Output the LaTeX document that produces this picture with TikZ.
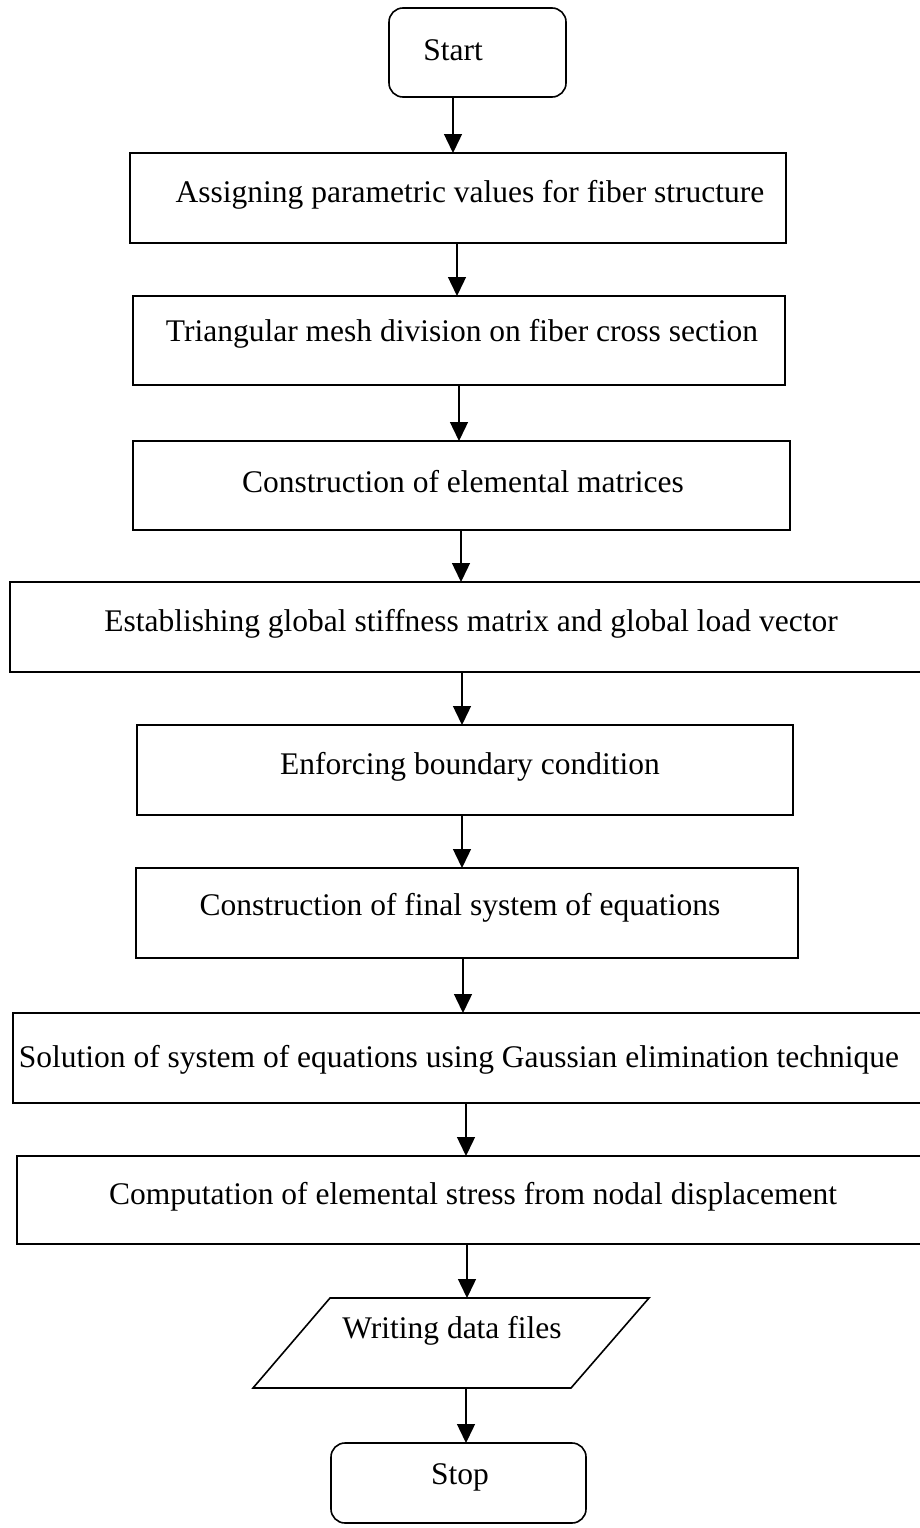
\documentclass[tikz,border=0pt]{standalone}
\usepackage{fontspec}
\setmainfont{Liberation Serif}
\usetikzlibrary{arrows.meta}
\begin{document}
\begin{tikzpicture}[x=1pt,y=-1pt,
  every node/.style={font=\fontsize{31.5}{36}\selectfont, inner sep=0pt, outer sep=0pt},
  procbox/.style={draw, line width=1.6pt, rectangle},
  termbox/.style={draw, line width=1.6pt, rectangle, rounded corners=14pt},
  txt/.style={},
  arr/.style={line width=1.4pt, -{Triangle[width=18pt,length=19pt]}}]
\useasboundingbox (0,0) rectangle (920,1528);
% terminals and process boxes
\node[termbox, minimum width=177pt, minimum height=89pt] (start) at (477.5,52.5) {};
\node[txt] (starttxt) at (453,50) {Start};
\node[procbox, minimum width=656pt, minimum height=90pt] (b1) at (458,198) {};
\node[txt] (b1txt) at (470,195) {Assigning parametric values for fiber structure};
\node[procbox, minimum width=652pt, minimum height=89pt] (b2) at (459,340.5) {};
\node[txt] (b2txt) at (462,334) {Triangular mesh division on fiber cross section};
\node[procbox, minimum width=657pt, minimum height=89pt] (b3) at (461.5,485.5) {};
\node[txt] (b3txt) at (463,482) {Construction of elemental matrices};
\node[procbox, minimum width=920pt, minimum height=90pt] (b4) at (470,627) {};
\node[txt] (b4txt) at (471,624) {Establishing global stiffness matrix and global load vector};
\node[procbox, minimum width=656pt, minimum height=90pt] (b5) at (465,770) {};
\node[txt] (b5txt) at (470,767) {Enforcing boundary condition};
\node[procbox, minimum width=662pt, minimum height=90pt] (b6) at (467,913) {};
\node[txt] (b6txt) at (460,908) {Construction of final system of equations};
\node[procbox, minimum width=917pt, minimum height=90pt] (b7) at (471.5,1058) {};
\node[txt] (b7txt) at (459,1060) {Solution of system of equations using Gaussian elimination technique};
\node[procbox, minimum width=913pt, minimum height=88pt] (b8) at (473.5,1200) {};
\node[txt] (b8txt) at (473,1197) {Computation of elemental stress from nodal displacement};
% input/output parallelogram
\node[minimum width=319pt, minimum height=90pt] (io) at (451,1343) {};
\draw[line width=1.6pt] (330,1298) -- (649,1298) -- (571,1388) -- (253,1388) -- cycle;
\node[txt] (iotxt) at (452,1331) {Writing data files};
\node[termbox, minimum width=255pt, minimum height=80pt] (stop) at (458.5,1483) {};
\node[txt] (stoptxt) at (460,1477) {Stop};
% arrow x positions
\coordinate (ax1) at (453,0);
\coordinate (ax2) at (457,0);
\coordinate (ax3) at (459,0);
\coordinate (ax4) at (461,0);
\coordinate (ax5) at (462,0);
\coordinate (ax6) at (462,0);
\coordinate (ax7) at (463,0);
\coordinate (ax8) at (466,0);
\coordinate (ax9) at (467,0);
\coordinate (ax10) at (466,0);
\draw[arr] (start.south -| ax1) -- (b1.north -| ax1);
\draw[arr] (b1.south -| ax2) -- (b2.north -| ax2);
\draw[arr] (b2.south -| ax3) -- (b3.north -| ax3);
\draw[arr] (b3.south -| ax4) -- (b4.north -| ax4);
\draw[arr] (b4.south -| ax5) -- (b5.north -| ax5);
\draw[arr] (b5.south -| ax6) -- (b6.north -| ax6);
\draw[arr] (b6.south -| ax7) -- (b7.north -| ax7);
\draw[arr] (b7.south -| ax8) -- (b8.north -| ax8);
\draw[arr] (b8.south -| ax9) -- (io.north -| ax9);
\draw[arr] (io.south -| ax10) -- (stop.north -| ax10);
\end{tikzpicture}
\end{document}
